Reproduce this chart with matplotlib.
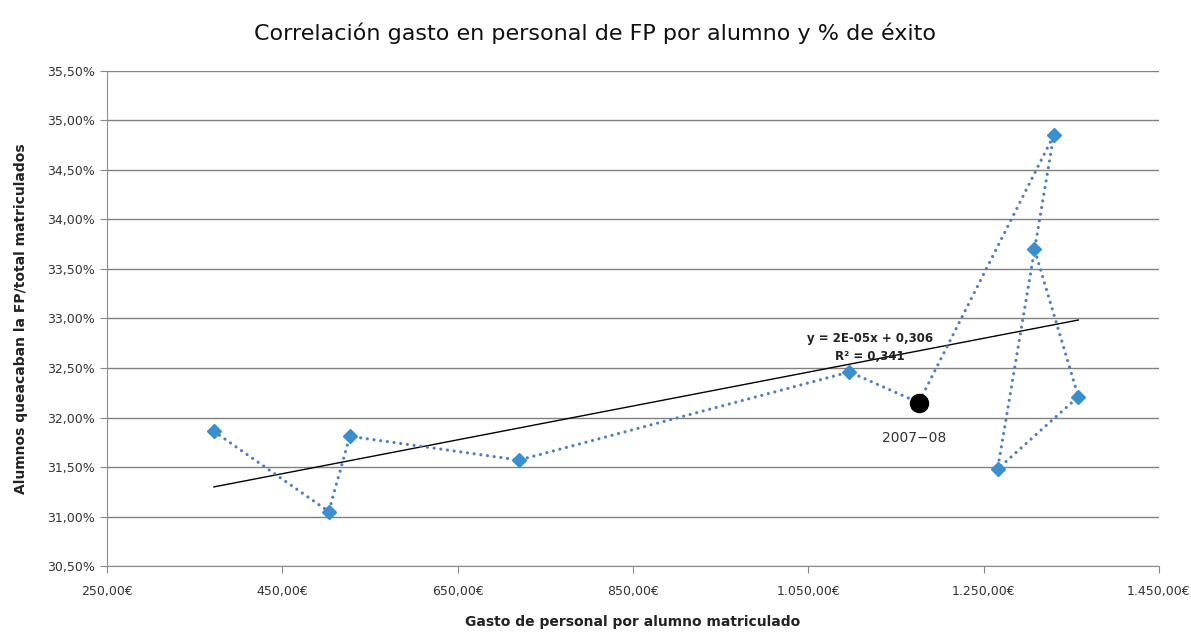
import numpy as np
import matplotlib
matplotlib.use("Agg")
import matplotlib.pyplot as plt

# gasto por alumno (€) y % de éxito, en orden cronológico
gasto = [372, 503, 527, 720, 1097, 1176, 1330, 1266, 1358, 1308]
exito = [31.86, 31.05, 31.81, 31.57, 32.46, 32.15, 34.85, 31.48, 32.21, 33.70]
destacado = 5  # 2007-08
etiqueta_destacado = "2007\u221208"

xticks = [250, 450, 650, 850, 1050, 1250, 1450]
xtick_labels = ["250,00\u20ac", "450,00\u20ac", "650,00\u20ac", "850,00\u20ac",
                "1.050,00\u20ac", "1.250,00\u20ac", "1.450,00\u20ac"]
yticks = [30.5, 31.0, 31.5, 32.0, 32.5, 33.0, 33.5, 34.0, 34.5, 35.0, 35.5]
ytick_labels = ["30,50%", "31,00%", "31,50%", "32,00%", "32,50%", "33,00%",
                "33,50%", "34,00%", "34,50%", "35,00%", "35,50%"]

x = np.array(gasto, dtype=float)
y = np.array(exito)

fig = plt.figure(figsize=(11.91, 6.32), dpi=100)
ax = fig.add_axes([0.0898, 0.1044, 0.8833, 0.7833])

# línea de tendencia
m, b = np.polyfit(x, y, 1)
xt = np.array([x.min(), x.max()])
ax.plot(xt, m * xt + b, color='black', linewidth=1.0, zorder=3)

ax.plot(x, y, linestyle=(0, (0.01, 2.1)), color='#4f7fc0', linewidth=2.3,
        dash_capstyle='round', zorder=4)
ax.plot(x, y, linestyle='none', marker='D', markersize=7,
        color='#3a8fd0', zorder=5)
ax.plot(x[destacado], y[destacado], 'o', color='black', markersize=13, zorder=6)
ax.annotate(etiqueta_destacado, (x[destacado], y[destacado]),
            xytext=(-3, -28), textcoords='offset points', ha='center',
            fontsize=10, color='#333333')

ax.text(1120, 32.80, "y = 2E-05x + 0,306", ha='center', va='center',
        fontsize=8.5, fontweight='bold', color='#222222', zorder=7)
ax.text(1120, 32.62, "R\u00b2 = 0,341", ha='center', va='center',
        fontsize=8.5, fontweight='bold', color='#222222', zorder=7)

ax.set_xlim(250, 1450)
ax.set_ylim(30.5, 35.5)
ax.set_xticks(xticks)
ax.set_xticklabels(xtick_labels)
ax.set_yticks(yticks)
ax.set_yticklabels(ytick_labels)
ax.tick_params(axis='both', labelsize=9, colors='#333333', length=5,
               direction='out', color='#888888')
ax.tick_params(axis='x', pad=9)
ax.grid(axis='y', color='#808080', linewidth=1.0)
ax.set_axisbelow(True)
for s in ['top', 'right']:
    ax.spines[s].set_visible(False)
for s in ['left', 'bottom']:
    ax.spines[s].set_color('#8c8c8c')

ax.set_xlabel("Gasto de personal por alumno matriculado", fontsize=10,
              fontweight='bold', color='#222222', labelpad=12)
ax.set_ylabel("Alumnos queacaban la FP/total matriculados", fontsize=10,
              fontweight='bold', color='#222222', labelpad=14)
fig.suptitle("Correlación gasto en personal de FP por alumno y % de éxito",
             fontsize=16, y=0.965, color='#111111')

fig.savefig("out.png", dpi=100, facecolor='white')
